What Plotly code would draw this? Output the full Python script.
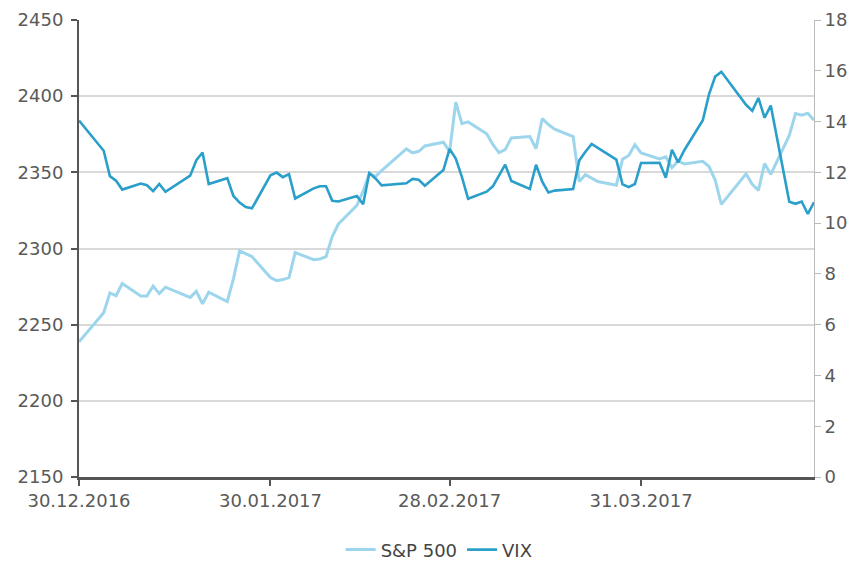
import plotly.graph_objects as go

dates = [
    "2016-12-30", "2017-01-03", "2017-01-04", "2017-01-05", "2017-01-06", "2017-01-09",
    "2017-01-10", "2017-01-11", "2017-01-12", "2017-01-13", "2017-01-17", "2017-01-18",
    "2017-01-19", "2017-01-20", "2017-01-23", "2017-01-24", "2017-01-25", "2017-01-26",
    "2017-01-27", "2017-01-30", "2017-01-31", "2017-02-01", "2017-02-02", "2017-02-03",
    "2017-02-06", "2017-02-07", "2017-02-08", "2017-02-09", "2017-02-10", "2017-02-13",
    "2017-02-14", "2017-02-15", "2017-02-16", "2017-02-17", "2017-02-21", "2017-02-22",
    "2017-02-23", "2017-02-24", "2017-02-27", "2017-02-28", "2017-03-01", "2017-03-02",
    "2017-03-03", "2017-03-06", "2017-03-07", "2017-03-08", "2017-03-09", "2017-03-10",
    "2017-03-13", "2017-03-14", "2017-03-15", "2017-03-16", "2017-03-17", "2017-03-20",
    "2017-03-21", "2017-03-22", "2017-03-23", "2017-03-24", "2017-03-27", "2017-03-28",
    "2017-03-29", "2017-03-30", "2017-03-31", "2017-04-03", "2017-04-04", "2017-04-05",
    "2017-04-06", "2017-04-07", "2017-04-10", "2017-04-11", "2017-04-12", "2017-04-13",
    "2017-04-17", "2017-04-18", "2017-04-19", "2017-04-20", "2017-04-21", "2017-04-24",
    "2017-04-25", "2017-04-26", "2017-04-27", "2017-04-28",
]

sp500 = [
    2238.8, 2257.8, 2270.8, 2269.0, 2277.0, 2268.9,
    2268.9, 2275.3, 2270.4, 2274.6, 2267.9, 2271.9,
    2263.7, 2271.3, 2265.2, 2280.1, 2298.4, 2296.7,
    2294.7, 2280.9, 2278.9, 2279.6, 2280.9, 2297.4,
    2292.6, 2293.1, 2294.7, 2307.9, 2316.1, 2328.3,
    2337.6, 2349.3, 2347.2, 2351.2, 2365.4, 2362.8,
    2363.8, 2367.3, 2369.8, 2363.6, 2396.0, 2381.9,
    2383.1, 2375.3, 2368.4, 2363.0, 2364.9, 2372.6,
    2373.5, 2365.5, 2385.3, 2381.4, 2378.3, 2373.5,
    2344.0, 2348.5, 2346.0, 2344.0, 2341.6, 2358.6,
    2361.1, 2368.1, 2362.7, 2358.8, 2360.2, 2353.0,
    2357.5, 2355.5, 2357.2, 2353.8, 2344.9, 2329.0,
    2349.0, 2342.2, 2338.2, 2355.8, 2348.7, 2374.2,
    2388.6, 2387.5, 2388.8, 2384.2,
]

vix = [
    14.04, 12.85, 11.85, 11.67, 11.32, 11.56,
    11.49, 11.26, 11.54, 11.23, 11.87, 12.48,
    12.78, 11.54, 11.77, 11.07, 10.81, 10.63,
    10.58, 11.88, 11.99, 11.81, 11.93, 10.97,
    11.37, 11.45, 11.45, 10.88, 10.85, 11.07,
    10.74, 11.97, 11.76, 11.49, 11.57, 11.74,
    11.71, 11.47, 12.09, 12.92, 12.54, 11.81,
    10.96, 11.24, 11.45, 11.86, 12.30, 11.66,
    11.35, 12.30, 11.63, 11.21, 11.28, 11.34,
    12.47, 12.81, 13.12, 12.96, 12.50, 11.53,
    11.42, 11.54, 12.37, 12.38, 11.79, 12.89,
    12.39, 12.87, 14.05, 15.07, 15.77, 15.96,
    14.66, 14.42, 14.93, 14.15, 14.63, 10.84,
    10.76, 10.85, 10.36, 10.82,
]

x_tick_dates = ["2016-12-30", "2017-01-30", "2017-02-28", "2017-03-31"]
x_tick_labels = ["30.12.2016", "30.01.2017", "28.02.2017", "31.03.2017"]
left_ticks = [2150, 2200, 2250, 2300, 2350, 2400, 2450]
right_ticks = [0, 2, 4, 6, 8, 10, 12, 14, 16, 18]

FONT = "DejaVu Sans"
TXT = "#5a5a5a"

fig = go.Figure()
fig.add_trace(go.Scatter(
    x=dates, y=sp500, name="S&P 500", mode="lines",
    line=dict(color="#9dd6ec", width=3), yaxis="y",
))
fig.add_trace(go.Scatter(
    x=dates, y=vix, name="VIX", mode="lines",
    line=dict(color="#2a9fc9", width=2.6), yaxis="y2",
))

fig.update_layout(
    width=857, height=564,
    margin=dict(l=79, r=43, t=20, b=87),
    paper_bgcolor="white", plot_bgcolor="white",
    font=dict(family=FONT, size=18, color=TXT),
    showlegend=True,
    legend=dict(
        orientation="h", x=0.49, xanchor="center",
        yref="container", y=0.025, yanchor="middle",
        font=dict(family=FONT, size=18, color="#444"),
        itemwidth=30, tracegroupgap=0,
    ),
    xaxis=dict(
        type="date", automargin=False,
        range=["2016-12-30", "2017-04-28"],
        tickvals=x_tick_dates, ticktext=x_tick_labels,
        showgrid=False, zeroline=False,
        showline=True, linecolor="#555555", linewidth=2.5,
        ticks="outside", ticklen=6, tickcolor="#555555", tickwidth=1.5,
        tickfont=dict(family=FONT, size=18, color=TXT),
    ),
    yaxis=dict(
        range=[2150, 2450], tickvals=left_ticks, automargin=False,
        showgrid=True, gridcolor="#d9d9d9", gridwidth=1.5,
        zeroline=False,
        showline=True, linecolor="#555555", linewidth=2,
        ticks="outside", ticklen=6, tickcolor="#555555", tickwidth=1.5,
        tickfont=dict(family=FONT, size=18, color=TXT),
        ticklabelstandoff=4,
    ),
    yaxis2=dict(
        range=[0, 18], tickvals=right_ticks, automargin=False,
        overlaying="y", side="right",
        showgrid=False, zeroline=False,
        showline=True, linecolor="#bbbbbb", linewidth=1,
        ticks="outside", ticklen=6, tickcolor="#bbbbbb", tickwidth=1,
        tickfont=dict(family=FONT, size=18, color=TXT),
    ),
)

fig.write_html(
    "out.html",
    config={"displayModeBar": False},
    post_script="document.body.style.margin='0';document.body.style.padding='0';",
)
